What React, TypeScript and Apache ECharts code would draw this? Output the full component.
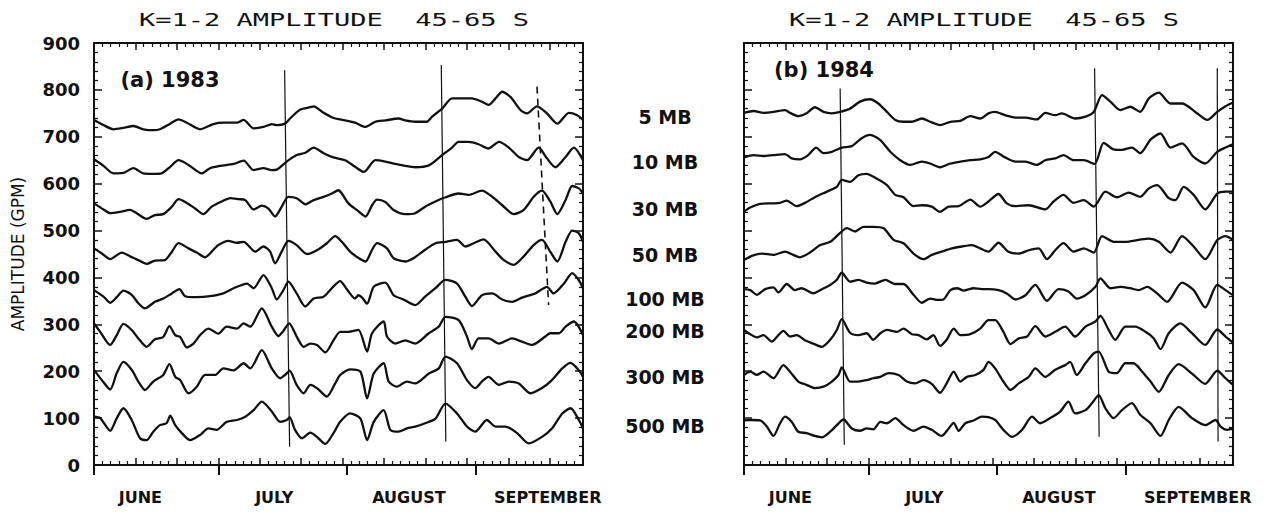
import React, { useEffect, useRef } from "react";
import * as echarts from "echarts";

// ---------- data (x = days since 1 June, y = amplitude in gpm) ----------
const monthTickDays = [0, 30, 61, 92];
const monthLabelDays = [11.2, 43.5, 76, 109.5];
const monthNames = ["JUNE", "JULY", "AUGUST", "SEPTEMBER"];
const levelNames = ["5 MB", "10 MB", "30 MB", "50 MB", "100 MB", "200 MB", "300 MB", "500 MB"];
const panelTitles = ["K=1-2 AMPLITUDE  45-65 S", "K=1-2 AMPLITUDE  45-65 S"];
const panelTags = ["(a) 1983", "(b) 1984"];

const a5mb = [[0,736],[2.3,725],[4.7,716],[7.1,719],[9.5,723],[11.9,716],[14.3,714],[15.9,716],[18.4,728],[20.4,737],[22.4,730],[25.6,716],[28.8,727],[31.2,730],[34.5,730],[36.1,736],[38.5,718],[40.9,721],[42.9,727],[44.1,725],[46.1,728],[47.3,739],[49.8,758],[52.2,763],[53,765],[55.4,751],[57.8,740],[60.6,735],[63,730],[65.5,721],[67.9,732],[70.3,735],[73.5,739],[75.1,735],[77.5,732],[80.3,732],[81.6,743],[84,760],[86.4,782],[88.8,782],[91.2,782],[93.6,775],[95.2,768],[96.9,782],[98.5,796],[100.5,785],[102.9,757],[104.5,750],[106.9,765],[109.3,750],[111.8,728],[114.6,751],[116.6,746],[118,736]];
const a10mb = [[0,652],[2.3,638],[4.7,622],[7.1,623],[9.5,633],[11.9,622],[14.3,621],[16.3,622],[18.4,636],[20.4,650],[22.8,640],[26,622],[28,633],[30.4,638],[33.7,642],[36.1,649],[38.5,629],[40.9,633],[42.9,629],[44.1,630],[46.5,647],[48.9,661],[51,666],[53,677],[55.4,665],[57.8,656],[60.6,650],[63,636],[65.1,625],[67.9,650],[70.3,647],[72.7,642],[75.1,638],[77.5,635],[80.8,639],[84,661],[86.4,677],[88,689],[90.4,689],[92.8,684],[95.2,675],[97.7,689],[100.1,677],[102.5,657],[104.5,650],[107.3,677],[109.3,654],[111.3,635],[113.8,657],[115.8,677],[118,650]];
const a30mb = [[0,558],[2.3,545],[3.9,537],[6.3,540],[8.7,544],[10.3,537],[12.7,525],[14.7,533],[16.7,535],[18.8,551],[20.4,567],[22.4,559],[24.4,547],[26.4,535],[28.4,551],[30.8,562],[32.9,569],[34.9,567],[36.5,565],[38.5,545],[40.5,553],[42.1,547],[43.7,530],[45.3,551],[46.9,572],[48.9,569],[51,556],[53,565],[55.4,572],[57.4,579],[59,586],[59.8,579],[61.4,558],[63.4,544],[65.5,530],[67.1,554],[68.3,566],[70.3,561],[72.3,544],[75.1,535],[77.5,537],[79.9,551],[82.4,562],[84.8,571],[88,579],[90.4,576],[93.6,585],[96.1,572],[98.5,554],[101.3,535],[103.7,544],[106.1,572],[108.1,585],[110.1,562],[111.8,535],[113.8,565],[115.4,595],[117,590],[118,579]];
const a50mb = [[0,462],[1.9,451],[3.9,439],[6.7,453],[8.7,445],[10.7,437],[12.7,429],[14.7,436],[17.1,437],[18.8,455],[20.4,473],[22.8,462],[24.8,453],[26.8,443],[28.8,459],[30,469],[32.4,478],[34.5,474],[36.1,476],[38.9,455],[40.9,466],[42.5,455],[43.7,430],[45.3,455],[46.9,478],[48.9,469],[51.4,450],[53.8,458],[56.2,473],[58.2,488],[59.8,476],[61.8,455],[63.4,444],[65.5,434],[67.1,459],[68.3,473],[70.7,462],[72.3,441],[75.1,434],[77.1,441],[79.9,459],[82.4,473],[84.8,476],[87.6,480],[89.6,466],[91.6,473],[94,481],[96.9,455],[98.9,437],[101.3,427],[103.7,445],[106.1,469],[108.1,480],[110.1,455],[111.8,434],[113.8,476],[115.4,500],[117,494],[118,476]];
const a100mb = [[0,373],[2.3,359],[3.9,346],[5.5,358],[7.1,372],[9.1,363],[10.7,345],[12.3,334],[14.7,348],[16.7,355],[18.8,366],[20.6,375],[22,360],[24.8,358],[28,360],[31.2,366],[33.7,377],[36.9,387],[38.5,377],[40.9,405],[42.9,377],[44.1,353],[45.7,373],[46.9,391],[48.9,366],[51,338],[53,355],[55.4,359],[57.8,381],[59.4,392],[61,375],[63,355],[63.8,362],[64.7,357],[65.9,344],[67.5,380],[70.3,389],[72.3,362],[74.7,353],[77.5,341],[79.9,359],[82.4,377],[84.8,395],[87.6,387],[89.6,359],[91.2,339],[93.6,362],[96.1,366],[98.5,353],[100.9,348],[103.3,357],[106.5,366],[109.3,380],[110.9,366],[113.4,387],[115.4,409],[117,394],[118,377]];
const a200mb = [[0,302],[1.5,284],[3.9,256],[5.5,277],[7.1,301],[9.1,288],[10.7,270],[12.7,252],[14.7,268],[16.7,273],[18.2,296],[19.6,277],[20.8,273],[22.4,251],[24,259],[25.6,277],[27.6,291],[30,280],[32,295],[34.5,291],[36.1,302],[37.7,295],[40.5,334],[42.9,295],[44.5,275],[45.7,286],[47.1,302],[48.9,274],[50.6,252],[52.2,259],[53.8,256],[55.8,240],[57.8,266],[59.4,284],[61.4,284],[63.8,288],[65.9,242],[67.1,281],[69.9,306],[70.7,274],[72.7,259],[75.1,266],[77.5,259],[80.8,281],[83.2,295],[84.8,316],[88,309],[90,274],[91.2,247],[92.8,270],[95.2,270],[97.7,259],[100.9,270],[103.3,263],[105.7,256],[108.9,274],[110.1,281],[112.2,281],[113.8,295],[115.8,306],[118,277]];
const a300mb = [[0,203],[1.9,181],[3.9,161],[5.5,196],[7.1,220],[9.1,203],[10.7,178],[12.3,160],[14.3,178],[16.7,192],[18.2,215],[19.6,188],[20.8,181],[22.8,153],[24.8,167],[26.8,192],[29.2,192],[31.2,206],[33.7,202],[36.1,217],[37.7,206],[40.5,245],[42.9,206],[44.9,185],[46.1,192],[47.2,201],[48.9,171],[50.6,153],[52.2,171],[53.8,164],[56.2,146],[58.2,174],[59.4,192],[61.8,204],[64.3,199],[65.9,142],[67.5,195],[69.9,217],[71.1,178],[73.1,167],[75.5,178],[77.5,174],[80.8,195],[83.2,206],[84.8,231],[87.6,217],[90,181],[92,164],[93.6,178],[95.2,188],[97.7,171],[100.1,178],[102.5,174],[105.3,153],[108.1,164],[110.5,181],[113,206],[115,218],[117,202],[118,188]];
const a500mb = [[0,103],[1.5,100],[3.9,73],[5.5,100],[7.1,121],[9.1,96],[11.1,57],[12.7,53],[14.3,71],[15.9,85],[17.5,89],[18.4,105],[19.6,85],[21.2,68],[23.2,53],[25.6,64],[27.6,78],[29.6,75],[32,92],[34.5,96],[36.5,103],[38.5,117],[40.5,135],[42.9,114],[44.9,92],[46.5,96],[47.2,102],[48.5,75],[50.2,57],[52.2,69],[53.8,60],[55.8,45],[57.8,68],[59.4,92],[61.8,110],[64.3,99],[65.9,53],[67.5,92],[69.9,117],[71.5,75],[73.5,71],[75.5,78],[77.5,82],[79.9,89],[82.4,99],[84.8,131],[87.6,110],[90,82],[92,71],[94.8,96],[96.9,82],[99.3,82],[102.1,68],[104.9,46],[108.1,60],[110.5,78],[113,110],[115,121],[117,96],[118,78]];

const b5mb = [[0,751],[2.3,755],[4.7,751],[7.1,753],[9.9,757],[11.1,751],[13.1,744],[15.1,750],[17.1,763],[19.2,753],[21.2,750],[23.2,753],[25.6,760],[28,775],[30.4,780],[32.4,771],[34.5,753],[36.5,736],[38.5,732],[40.5,732],[42.9,739],[44.9,732],[47.3,725],[49.8,732],[52.2,734],[54.6,744],[57,739],[59,750],[60.6,753],[63,746],[65.5,741],[67.9,741],[70.7,737],[72.7,751],[75.1,746],[76.7,750],[79.9,739],[82.4,743],[84.4,753],[86.4,789],[88.4,775],[90.8,757],[93.2,764],[95.6,753],[97.7,782],[100.1,794],[102.9,771],[105.7,771],[108.9,753],[111.8,736],[114.2,753],[116.2,765],[118,773]];
const b10mb = [[0,656],[2.3,661],[4.7,659],[7.1,661],[9.9,663],[11.5,654],[13.5,652],[15.5,661],[17.4,677],[19.2,665],[21.2,668],[23.6,677],[26,680],[28.4,697],[30.4,704],[32.9,693],[35.3,668],[37.7,650],[40.1,640],[42.9,647],[44.9,643],[47.3,635],[49.8,643],[52.2,647],[54.6,650],[57,652],[59,657],[60.6,668],[63,656],[65.5,647],[67.9,647],[70.7,640],[72.7,650],[75.1,654],[77.1,661],[79.5,650],[82,650],[84.6,642],[86.8,687],[89.2,673],[91.2,672],[93.6,677],[95.6,665],[98.1,694],[100.5,707],[102.9,677],[105.7,686],[108.5,657],[111.3,643],[114.2,668],[116.2,677],[118,684]];
const b30mb = [[0,540],[1.5,549],[3.9,557],[6.7,558],[8.7,559],[10.3,564],[12.7,552],[14.7,559],[17.1,571],[20,583],[22.4,593],[23.6,608],[25.6,604],[27.6,618],[29.6,621],[32,611],[34.5,597],[36.5,576],[38.5,571],[40.9,552],[42.9,554],[45.3,551],[47.3,540],[49.4,551],[51.8,552],[54.6,566],[57,551],[59,562],[61.4,578],[63.4,558],[65.5,552],[68.7,554],[72.7,545],[74.7,562],[77.1,576],[79.5,559],[82,565],[84.4,551],[87.2,583],[90,571],[92.8,581],[95.6,572],[97.7,590],[99.7,597],[102.5,569],[104.1,565],[106.1,593],[108.5,576],[111.3,545],[114.2,579],[116.2,583],[118,583]];
const b50mb = [[0,437],[1.9,446],[4.3,451],[7.1,448],[9.9,455],[11.9,448],[13.5,443],[15.9,453],[18.4,469],[20.8,476],[23.2,495],[24.8,505],[26.8,498],[28.8,508],[31.2,508],[33.7,505],[36.1,480],[38.5,473],[40.9,451],[43.3,439],[45.3,448],[47.7,455],[50.2,462],[52.6,466],[55,469],[57,462],[59,455],[61.4,474],[63.8,455],[66.3,451],[68.7,458],[71.1,462],[73.1,439],[75.1,458],[77.1,473],[79.5,455],[82,462],[84.4,453],[86.4,488],[89.2,476],[92,476],[95.2,480],[97.7,483],[100.1,476],[102.9,453],[105.7,488],[108.5,466],[111.3,439],[114.2,480],[116.2,488],[118,480]];
const b100mb = [[0,375],[1.5,373],[3.1,363],[5.1,375],[7.1,379],[8.3,368],[10.3,386],[12.3,373],[13.9,377],[16.7,366],[18.8,375],[20.8,384],[22.4,395],[23.6,410],[25.6,391],[27.6,395],[29.6,389],[31.6,387],[34.1,395],[36.5,386],[38.5,386],[40.9,363],[42.9,346],[44.9,355],[46.5,352],[48.1,353],[49.8,373],[51.4,377],[53,372],[55.4,377],[57.4,375],[59,375],[61.4,373],[63.4,366],[65.5,353],[67.9,362],[70.3,384],[73.1,350],[75.9,375],[78.3,370],[80.3,355],[82.4,362],[84.8,380],[86,398],[88.4,377],[90.8,380],[93.2,377],[95.2,373],[97.3,380],[99.7,366],[102.1,348],[105.7,389],[108.5,373],[111.3,336],[114.2,384],[116.2,373],[118,362]];
const b200mb = [[0,288],[1.5,279],[3.1,272],[4.7,277],[6.7,263],[8.3,277],[9.5,286],[11.1,274],[12.7,277],[14.7,266],[16.7,259],[18.8,252],[20.8,267],[22.4,288],[23.6,311],[25.6,282],[27.6,277],[29.6,281],[31.2,267],[32.9,281],[34.5,288],[36.9,284],[38.5,291],[40.5,279],[42.1,277],[44.1,268],[45.7,277],[47.3,254],[48.9,267],[50.6,291],[52.2,277],[54.6,279],[57,291],[59,309],[60.6,309],[62.6,284],[64.3,258],[66.3,270],[68.3,274],[70.3,296],[72.7,274],[75.1,284],[77.5,295],[79.9,274],[82.4,295],[84.8,306],[86,318],[88,288],[89.6,267],[92,295],[94.4,295],[96.9,284],[98.9,270],[100.5,247],[102.5,281],[105.3,302],[108.1,281],[111.3,256],[114.2,289],[116.2,274],[118,261]];
const b300mb = [[0,192],[1.5,199],[3.1,192],[4.7,199],[7.1,185],[9.5,213],[11.1,199],[13.1,178],[15.1,171],[17.1,164],[19.2,167],[21.2,178],[22.8,192],[23.6,208],[25.6,178],[27.6,178],[29.6,181],[31.2,185],[32.9,188],[34.9,196],[37.3,192],[39.3,178],[41.3,174],[43.3,181],[45.3,173],[47.3,154],[48.9,174],[50.6,199],[52.2,178],[53.8,188],[55.8,192],[57.8,203],[59,220],[60.6,206],[62.6,178],[64.3,160],[66.3,174],[68.7,188],[70.3,206],[72.7,188],[75.1,203],[77.5,213],[78.7,220],[80.3,192],[82.4,217],[84.4,238],[85.6,242],[88,199],[90,196],[92,217],[94,217],[96.1,199],[98.1,178],[100.1,156],[102.5,192],[104.9,215],[108.1,195],[111.3,173],[114.2,201],[116.2,185],[118,171]];
const b500mb = [[0,95],[1.5,96],[3.9,95],[5.5,82],[7.1,62],[8.7,89],[9.9,103],[11.5,92],[13.1,71],[15.1,68],[17.1,62],[18.8,59],[20.8,71],[22.4,85],[24,97],[26,78],[28,73],[29.6,78],[31.2,76],[32.9,92],[34.5,89],[36.5,100],[38.5,85],[40.9,73],[43.3,82],[45.3,75],[47.7,62],[49.4,78],[50.6,90],[51.8,73],[53.4,89],[55.4,95],[57.4,103],[59,102],[60.6,96],[62.6,75],[64.7,60],[67.1,75],[69.5,103],[71.5,89],[73.9,100],[76.3,114],[78.3,135],[79.9,110],[82.4,117],[84,132],[85.6,149],[87.2,121],[89.2,100],[91.2,117],[93.6,132],[95.6,107],[98.1,89],[100.5,62],[102.5,96],[104.9,124],[108.1,100],[111.3,85],[113.8,96],[115,82],[116.6,75],[118,78]];

// event markers (vertical lines): [start, end] in [day, gpm]
const aMarkers = [[[46.0, 842], [47.2, 39]], [[83.8, 853], [84.9, 50]]];
const aDashedMarker = [[106.9, 807], [109.7, 341]];
const bMarkers = [[[23.2, 803], [24.2, 43]], [[84.6, 846], [85.7, 60]], [[114.2, 846], [114.4, 50]]];

const panelA = [a5mb, a10mb, a30mb, a50mb, a100mb, a200mb, a300mb, a500mb];
const panelB = [b5mb, b10mb, b30mb, b50mb, b100mb, b200mb, b300mb, b500mb];

// ---------- styling ----------
const INK = "#111";
const SANS = '"DejaVu Sans", sans-serif';
const MONO = '"DejaVu Sans Mono", monospace';
const X_MAX = 118;

function tickXAxis(gridIndex: number, position: string) {
  return {
    type: "value", gridIndex, position, min: 0, max: X_MAX, interval: 10,
    axisLine: { show: true, onZero: false, lineStyle: { color: INK, width: 2 } },
    axisTick: { show: true, inside: true, length: 7, lineStyle: { color: INK, width: 1.5 } },
    minorTick: { show: true, splitNumber: 5, length: 4, lineStyle: { color: INK, width: 1.2 } },
    axisLabel: { show: false }, splitLine: { show: false }, minorSplitLine: { show: false },
  };
}
function monthXAxis(gridIndex: number) {
  return {
    type: "value", gridIndex, position: "bottom", min: 0, max: X_MAX,
    axisLine: { show: false, onZero: false },
    axisTick: { show: true, inside: false, length: 10, customValues: monthTickDays, lineStyle: { color: INK, width: 2 } },
    axisLabel: {
      show: true, customValues: monthLabelDays, margin: 24,
      formatter: (v: number) => { const i = monthLabelDays.findIndex((d) => Math.abs(d - v) < 0.01); return i >= 0 ? monthNames[i] : ""; },
      fontFamily: SANS, fontSize: 16, fontWeight: "bold", color: INK,
    },
    splitLine: { show: false },
  };
}
function yAx(gridIndex: number, position: string, labels: boolean, name?: string) {
  return {
    type: "value", gridIndex, position, min: 0, max: 900, interval: 100,
    name: name || "", nameLocation: "middle", nameGap: 68,
    nameTextStyle: { fontFamily: SANS, fontSize: 17, color: INK },
    axisLine: { show: true, onZero: false, lineStyle: { color: INK, width: 2 } },
    axisTick: { show: true, inside: true, length: 8, lineStyle: { color: INK, width: 1.5 } },
    minorTick: { show: true, splitNumber: 5, length: 4, lineStyle: { color: INK, width: 1.2 } },
    axisLabel: { show: labels, margin: 14, fontFamily: SANS, fontSize: 18, fontWeight: "bold", color: INK },
    splitLine: { show: false }, minorSplitLine: { show: false },
  };
}

function lineSeries(name: string, data: number[][], xi: number, yi: number) {
  return {
    type: "line", name, data, xAxisIndex: xi, yAxisIndex: yi,
    symbol: "none", showSymbol: false, silent: true, z: 3, smooth: 0.25,
    lineStyle: { color: INK, width: 2.3 },
  };
}
function markerSeries(data: number[][], xi: number, yi: number, dashed = false) {
  return {
    type: "line", data, xAxisIndex: xi, yAxisIndex: yi,
    symbol: "none", showSymbol: false, silent: true, z: 2,
    lineStyle: { color: INK, width: dashed ? 1.6 : 1.2, type: dashed ? [7, 5] : "solid" },
  };
}

function textEl(text: string, x: number, y: number, font: string, scaleX = 1) {
  return {
    type: "text", x, y, scaleX, silent: true,
    style: { text, font, fill: INK, textAlign: "center", textVerticalAlign: "middle", align: "center", verticalAlign: "middle" },
  };
}

const levelLabelY = [117, 162, 209, 255, 299, 331, 377, 426];

export default function App() {
  const ref = useRef<HTMLDivElement>(null);
  useEffect(() => {
    if (!ref.current) return;
    const chart = echarts.init(ref.current, undefined, { renderer: "svg" });
    const series: any[] = [];
    panelA.forEach((d, i) => series.push(lineSeries("a " + levelNames[i], d, 0, 0)));
    panelB.forEach((d, i) => series.push(lineSeries("b " + levelNames[i], d, 3, 2)));
    aMarkers.forEach((m) => series.push(markerSeries(m, 0, 0)));
    series.push(markerSeries(aDashedMarker, 0, 0, true));
    bMarkers.forEach((m) => series.push(markerSeries(m, 3, 2)));

    const graphic: any[] = [
      textEl(panelTitles[0], 334, 20, `normal 18px ${MONO}`, 1.5),
      textEl(panelTitles[1], 984, 20, `normal 18px ${MONO}`, 1.5),
      textEl(panelTags[0], 170, 80, `bold 21px ${SANS}`),
      textEl(panelTags[1], 824, 70, `bold 21px ${SANS}`),
      ...levelNames.map((n, i) => textEl(n, 665, levelLabelY[i], `bold 19px ${SANS}`)),
    ];

    chart.setOption({
      animation: false,
      backgroundColor: "#fff",
      grid: [
        { left: 94, top: 43, width: 489, height: 422, containLabel: false },
        { left: 744, top: 43, width: 489, height: 422, containLabel: false },
      ],
      xAxis: [
        tickXAxis(0, "bottom"), tickXAxis(0, "top"), monthXAxis(0),
        tickXAxis(1, "bottom"), tickXAxis(1, "top"), monthXAxis(1),
      ],
      yAxis: [
        yAx(0, "left", true, "AMPLITUDE (GPM)"), yAx(0, "right", false),
        yAx(1, "left", false), yAx(1, "right", false),
      ],
      graphic,
      series,
    });
    return () => chart.dispose();
  }, []);
  return <div ref={ref} style={{ position: "fixed", left: 0, top: 0, width: 1268, height: 512, background: "#fff" }} />;
}
